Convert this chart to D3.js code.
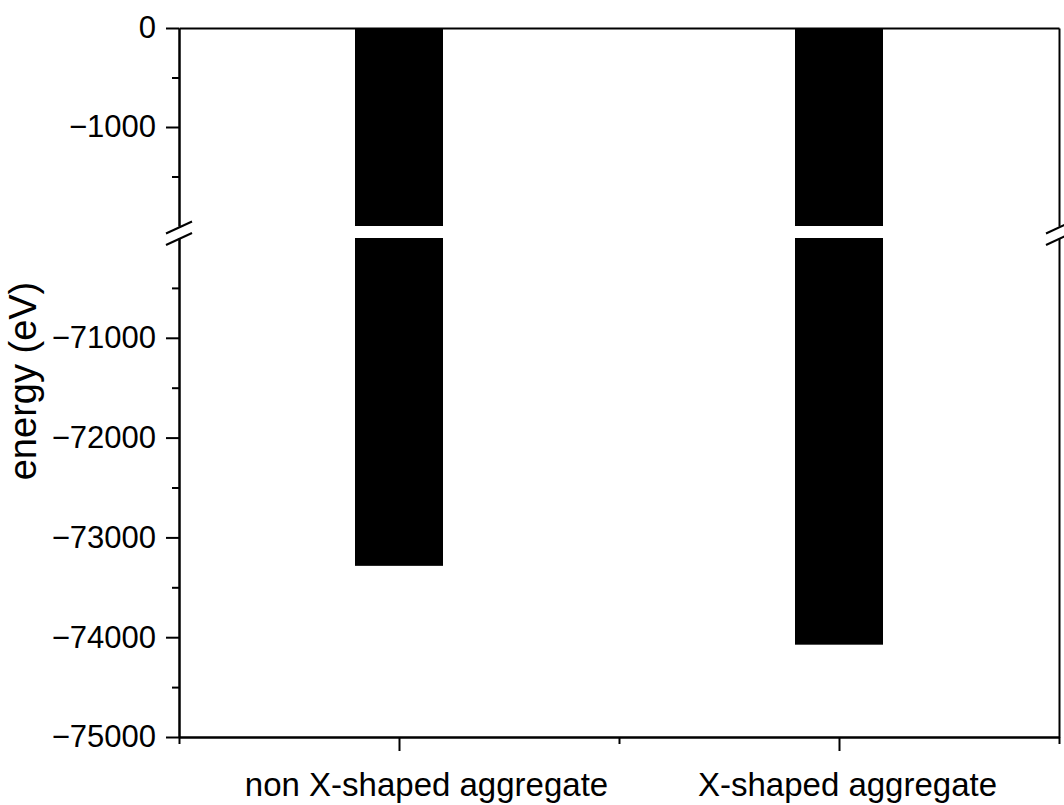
<!DOCTYPE html>
<html>
<head>
<meta charset="utf-8">
<script src="https://cdn.jsdelivr.net/npm/d3@7"></script>
<style>
  body { margin: 0; background: #fff; }
  text { font-family: "Liberation Sans", Arial, sans-serif; fill: #000; }
  .axis path, .axis line { stroke: #000; stroke-width: 2px; }
</style>
</head>
<body>
<div id="chart"></div>
<script>
// data
const categories = ["non X-shaped aggregate", "X-shaped aggregate"];
const energies = [-73285, -74075];

// broken y axis: upper and lower pieces
const upperDomain = [-2000, 0],
      lowerDomain = [-75000, -70000];
const upperTicks = [0, -1000],
      upperMinor = [-500, -1500],
      lowerTicks = [-71000, -72000, -73000, -74000, -75000],
      lowerMinor = [-70500, -71500, -72500, -73500, -74500];
const xMinor = [0.5, 1.5, 2.5];

const W = 1064, H = 805;
const plotLeft = 179, plotRight = 1059, plotTop = 28, plotBottom = 737,
      breakTop = 226, breakBottom = 238;

const svg = d3.select("#chart").append("svg")
    .attr("width", W)
    .attr("height", H);

let x = d3.scaleLinear().domain([0.5, 2.5]).range([plotLeft, plotRight]);
let yUp = d3.scaleLinear().domain(upperDomain).range([breakTop, plotTop]);
let yLow = d3.scaleLinear().domain(lowerDomain).range([plotBottom, breakBottom]);

const barW = 0.2;

// bars, drawn in two pieces
const bars = svg.append("g");
bars.selectAll(".barUp")
    .data(energies)
    .enter().append("rect")
    .attr("class", "barUp")
    .attr("x", (d, i) => x(i + 1 - barW / 2))
    .attr("width", (d, i) => x(i + 1 + barW / 2) - x(i + 1 - barW / 2))
    .attr("y", yUp(0))
    .attr("height", yUp(upperDomain[0]) - yUp(0))
    .attr("fill", "#000");
bars.selectAll(".barLow")
    .data(energies)
    .enter().append("rect")
    .attr("class", "barLow")
    .attr("x", (d, i) => x(i + 1 - barW / 2))
    .attr("width", (d, i) => x(i + 1 + barW / 2) - x(i + 1 - barW / 2))
    .attr("y", yLow(lowerDomain[1]))
    .attr("height", d => yLow(d) - yLow(lowerDomain[1]))
    .attr("fill", "#000");

const fmt = d3.format("d");

// left axis, upper piece
svg.append("g").attr("class", "axis yaxis")
    .attr("transform", "translate(" + plotLeft + ",0)")
    .call(d3.axisLeft(yUp).tickValues(upperTicks).tickSize(13).tickSizeOuter(0).tickPadding(10).tickFormat(fmt));
svg.append("g").attr("class", "axis")
    .attr("transform", "translate(" + plotLeft + ",0)")
    .call(d3.axisLeft(yUp).tickValues(upperMinor).tickSize(7).tickSizeOuter(0).tickFormat(""));

// left axis, lower piece
svg.append("g").attr("class", "axis yaxis")
    .attr("transform", "translate(" + plotLeft + ",0)")
    .call(d3.axisLeft(yLow).tickValues(lowerTicks).tickSize(13).tickSizeOuter(0).tickPadding(10).tickFormat(fmt));
svg.append("g").attr("class", "axis")
    .attr("transform", "translate(" + plotLeft + ",0)")
    .call(d3.axisLeft(yLow).tickValues(lowerMinor).tickSize(7).tickSizeOuter(0).tickFormat(""));

// right axis (no ticks)
svg.append("g").attr("class", "axis")
    .attr("transform", "translate(" + plotRight + ",0)")
    .call(d3.axisRight(yUp).tickValues([]).tickSizeOuter(0));
svg.append("g").attr("class", "axis")
    .attr("transform", "translate(" + plotRight + ",0)")
    .call(d3.axisRight(yLow).tickValues([]).tickSizeOuter(0));

// top frame
svg.append("g").attr("class", "axis")
    .attr("transform", "translate(0," + plotTop + ")")
    .call(d3.axisTop(x).tickValues([]).tickSizeOuter(0));

// bottom axis
svg.append("g").attr("class", "axis xaxis")
    .attr("transform", "translate(0," + plotBottom + ")")
    .call(d3.axisBottom(x).tickValues([1, 2]).tickSize(14).tickSizeOuter(0).tickPadding(22)
        .tickFormat(d => categories[d - 1]));
svg.append("g").attr("class", "axis")
    .attr("transform", "translate(0," + plotBottom + ")")
    .call(d3.axisBottom(x).tickValues(xMinor).tickSize(7).tickSizeOuter(0).tickFormat(""));

svg.selectAll(".yaxis text").style("font-size", "31px");
// labels sit a little right of their ticks in the original
svg.selectAll(".xaxis text")
    .style("font-size", "33px")
    .attr("dx", (d, i) => i == 0 ? 27 : 8);

// break marks on both sides
const mid1 = breakTop + 1.5, mid2 = breakBottom + 1;
[plotLeft, plotRight].forEach(function(ax) {
  [mid1, mid2].forEach(function(m) {
    svg.append("line")
      .attr("x1", ax - 13).attr("y1", m + 6)
      .attr("x2", ax + 13).attr("y2", m - 6)
      .attr("stroke", "#000")
      .attr("stroke-width", 2);
  });
});

// y label
svg.append("text")
    .attr("transform", "rotate(-90)")
    .attr("x", -381)
    .attr("y", 36)
    .style("text-anchor", "middle")
    .style("font-size", "38px")
    .text("energy (eV)");
</script>
</body>
</html>
